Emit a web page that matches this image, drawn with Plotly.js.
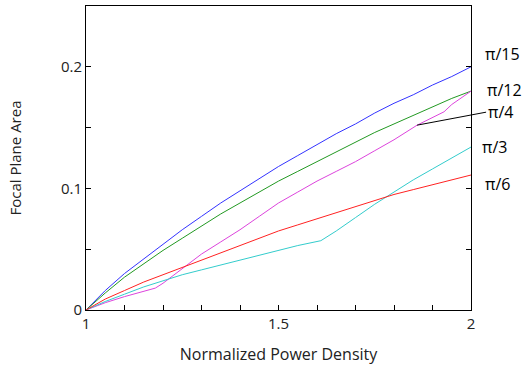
<!DOCTYPE html>
<html><head><meta charset="utf-8">
<script src="https://cdn.plot.ly/plotly-3.0.1.min.js"></script>
<style>html,body{margin:0;padding:0;background:#fff;}</style>
</head><body>
<div id="chart" style="width:522px;height:368px;"></div>
<script>
// Data
const xGrid   = [1.0, 1.05, 1.1, 1.15, 1.2, 1.25, 1.3, 1.35, 1.4, 1.45, 1.5, 1.55, 1.6, 1.65, 1.7, 1.75, 1.8, 1.85, 1.9, 1.95, 2.0];
const yBlue   = [0, 0.016, 0.030, 0.042, 0.054, 0.066, 0.077, 0.088, 0.098, 0.108, 0.118, 0.127, 0.136, 0.145, 0.153, 0.162, 0.170, 0.177, 0.185, 0.192, 0.200];
const yGreen  = [0, 0.014, 0.027, 0.038, 0.049, 0.059, 0.069, 0.079, 0.088, 0.097, 0.106, 0.114, 0.122, 0.130, 0.138, 0.146, 0.153, 0.160, 0.167, 0.174, 0.180];
const yRed    = [0, 0.009, 0.016, 0.023, 0.029, 0.035, 0.041, 0.047, 0.053, 0.059, 0.065, 0.070, 0.075, 0.080, 0.085, 0.090, 0.095, 0.099, 0.103, 0.107, 0.111];
const xCyan   = [1.0, 1.05, 1.1, 1.15, 1.2, 1.25, 1.3, 1.35, 1.4, 1.45, 1.5, 1.55, 1.61, 1.65, 1.7, 1.75, 1.8, 1.85, 1.9, 1.95, 2.0];
const yCyan   = [0, 0.007, 0.013, 0.019, 0.024, 0.029, 0.033, 0.037, 0.041, 0.045, 0.049, 0.053, 0.057, 0.065, 0.076, 0.087, 0.097, 0.107, 0.116, 0.125, 0.134];
const xMag    = [1.0, 1.05, 1.1, 1.15, 1.18, 1.2, 1.25, 1.3, 1.35, 1.4, 1.45, 1.5, 1.55, 1.6, 1.65, 1.7, 1.75, 1.8, 1.86, 1.9, 1.93, 1.95, 2.0];
const yMag    = [0, 0.006, 0.011, 0.015, 0.018, 0.022, 0.034, 0.046, 0.056, 0.066, 0.077, 0.088, 0.097, 0.106, 0.114, 0.122, 0.131, 0.140, 0.152, 0.158, 0.163, 0.169, 0.180];
const seriesNames = ['π/15', 'π/12', 'π/4', 'π/3', 'π/6'];
const pointerIndex = 18; // π/4 label points to this magenta point

const FONT = 'Open Sans, sans-serif';
const mk = (x, y, name, color) => ({x, y, name, type:'scatter', mode:'lines',
  line:{color, width:1}, hoverinfo:'skip'});
const data = [
  mk(xGrid, yBlue, seriesNames[0], '#3333ff'),
  mk(xGrid, yGreen, seriesNames[1], '#229922'),
  mk(xMag, yMag, seriesNames[2], '#dd44dd'),
  mk(xCyan, yCyan, seriesNames[3], '#33cccc'),
  mk(xGrid, yRed, seriesNames[4], '#ff2222')
];

const lab = (text, yp, xp) => ({xref:'paper', yref:'paper', x:xp, y:yp, text,
  showarrow:false, xanchor:'left', yanchor:'middle', font:{family:FONT, size:16, color:'#000'}});

const layout = {
  width:522, height:368,
  margin:{l:86, r:51, t:6, b:58},
  paper_bgcolor:'#fff', plot_bgcolor:'#fff',
  showlegend:false,
  font:{family:FONT, size:15, color:'#222'},
  xaxis:{range:[1,2], tickvals:[1,1.5,2], ticktext:['1','1.5','2'],
    ticks:'inside', ticklen:5, tickcolor:'#000',
    minor:{dtick:0.1, ticks:'inside', ticklen:5, tickcolor:'#000'},
    showgrid:false, zeroline:false, showline:true, linecolor:'#000', linewidth:1, mirror:true,
    tickfont:{family:FONT, size:15, color:'#222'}, automargin:false,
    title:{text:'Normalized Power Density', font:{family:FONT, size:16, color:'#222'}, standoff:16}},
  yaxis:{range:[0,0.25], tickvals:[0,0.1,0.2], ticktext:['0','0.1','0.2'],
    ticks:'inside', ticklen:5, tickcolor:'#000',
    minor:{dtick:0.05, ticks:'inside', ticklen:5, tickcolor:'#000'},
    showgrid:false, zeroline:false, showline:true, linecolor:'#000', linewidth:1, mirror:'ticks',
    tickfont:{family:FONT, size:15, color:'#222'}, automargin:false,
    title:{text:'Focal Plane Area', font:{family:FONT, size:15, color:'#222'}, standoff:35}},
  annotations:[
    lab(seriesNames[0], 0.842, 1.031),
    lab(seriesNames[1], 0.724, 1.036),
    lab(seriesNames[3], 0.536, 1.023),
    lab(seriesNames[4], 0.414, 1.031),
    {x:xMag[pointerIndex], y:yMag[pointerIndex], xref:'x', yref:'y', text:seriesNames[2],
     showarrow:true, arrowhead:0, arrowwidth:1, arrowcolor:'#000', ax:69, ay:-13,
     xanchor:'left', yanchor:'middle', font:{family:FONT, size:16, color:'#000'}}
  ]
};
Plotly.newPlot('chart', data, layout, {displayModeBar:false, staticPlot:true});
</script>
</body></html>
